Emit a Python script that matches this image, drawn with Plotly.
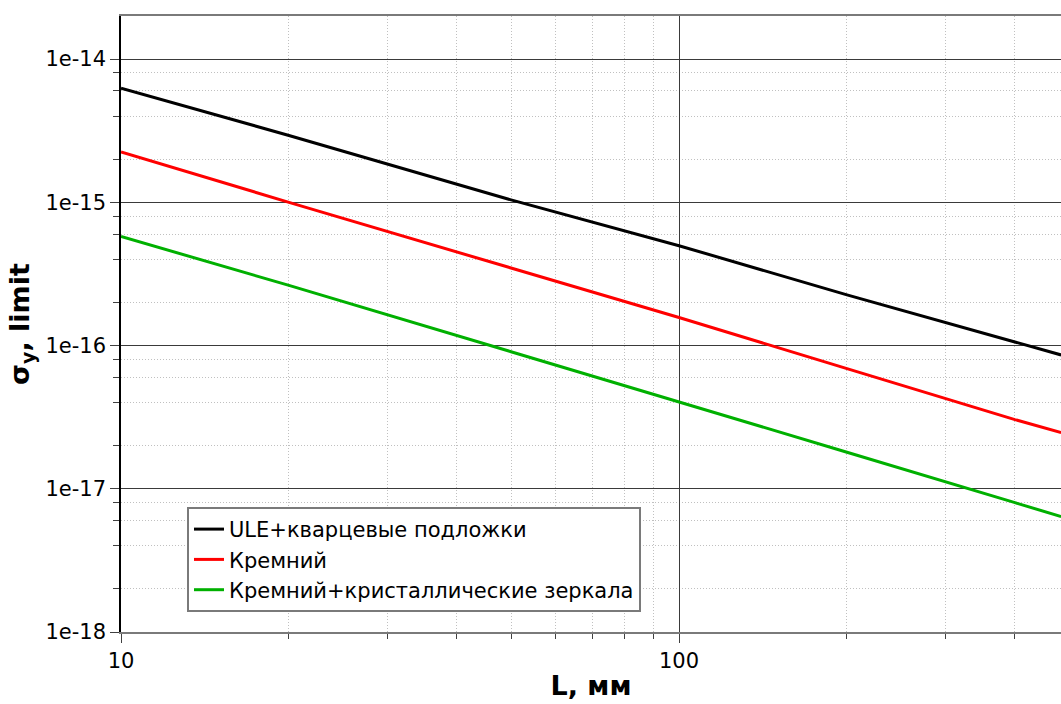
import plotly.graph_objects as go

# Cavity length, mm
L_mm = [10, 20, 50, 100, 200, 400, 484]

# Limiting fractional instability for each mirror/spacer material
sigma_ule = [6.27e-15, 2.93e-15, 1.04e-15, 4.98e-16, 2.26e-16, 1.05e-16, 8.6e-17]
sigma_si = [2.25e-15, 1.00e-15, 3.48e-16, 1.57e-16, 6.9e-17, 3.04e-17, 2.47e-17]
sigma_si_cryst = [5.78e-16, 2.63e-16, 9.06e-17, 4.06e-17, 1.80e-17, 8.0e-18, 6.4e-18]

series_names = [
    "ULE+кварцевые подложки",
    "Кремний",
    "Кремний+кристаллические зеркала",
]
series_colors = ["#000000", "#ff0000", "#00b000"]

y_major = [1e-18, 1e-17, 1e-16, 1e-15, 1e-14]
y_major_text = ["1e-18", "1e-17", "1e-16", "1e-15", "1e-14"]
y_minor = [m * 10.0 ** e for e in range(-18, -14) for m in (2, 4, 6, 8)]

x_major = [10, 100]
x_major_text = ["10", "100"]
x_minor = [20, 30, 40, 50, 60, 70, 80, 90, 200, 300, 400]

FONT = "DejaVu Sans"
DOTS = "1px,2px"

fig = go.Figure()
for name, ys, col in zip(series_names, [sigma_ule, sigma_si, sigma_si_cryst], series_colors):
    fig.add_trace(go.Scatter(
        x=L_mm, y=ys, mode="lines", name=name,
        line=dict(color=col, width=3),
    ))

fig.update_layout(
    width=1061, height=704,
    margin=dict(l=121, r=0, t=16, b=72),
    paper_bgcolor="white", plot_bgcolor="white",
    font=dict(family=FONT, size=21, color="black"),
    showlegend=True,
    legend=dict(
        x=0.0702, y=0.203, xanchor="left", yanchor="top",
        bgcolor="white", bordercolor="#7a7a7a", borderwidth=2,
        font=dict(family=FONT, size=21, color="black"),
        itemwidth=30, tracegroupgap=0,
    ),
)

fig.update_xaxes(
    type="log", range=[1, 2.6846],
    tickmode="array", tickvals=x_major, ticktext=x_major_text,
    ticks="outside", ticklen=9, tickwidth=1, tickcolor="#404040",
    showgrid=True, gridcolor="#3a3a3a", gridwidth=1,
    showline=True, linecolor="#7a7a7a", linewidth=2, mirror=True,
    zeroline=False,
    tickfont=dict(family=FONT, size=21, color="black"),
    title=dict(text="<b>L, мм</b>", font=dict(family=FONT, size=27, color="black"), standoff=4),
    minor=dict(
        tickmode="array", tickvals=x_minor,
        ticks="outside", ticklen=5, tickcolor="#404040",
        showgrid=True, gridcolor="#c0c0c0", griddash=DOTS, gridwidth=1,
    ),
)

fig.update_yaxes(
    type="log", range=[-18, -13.699],
    tickmode="array", tickvals=y_major, ticktext=y_major_text,
    ticks="outside", ticklen=9, tickwidth=1, tickcolor="#404040",
    showgrid=True, gridcolor="#3a3a3a", gridwidth=1,
    showline=True, linecolor="#000000", linewidth=1.5,
    zeroline=False,
    tickfont=dict(family=FONT, size=21, color="black"),
    title=dict(text="<b>σ<sub>y</sub>, limit</b>", font=dict(family=FONT, size=27, color="black"), standoff=8),
    minor=dict(
        tickmode="array", tickvals=y_minor,
        ticks="outside", ticklen=6, tickcolor="#404040",
        showgrid=True, gridcolor="#c0c0c0", griddash=DOTS, gridwidth=1,
    ),
)

fig.write_html("out.html")
